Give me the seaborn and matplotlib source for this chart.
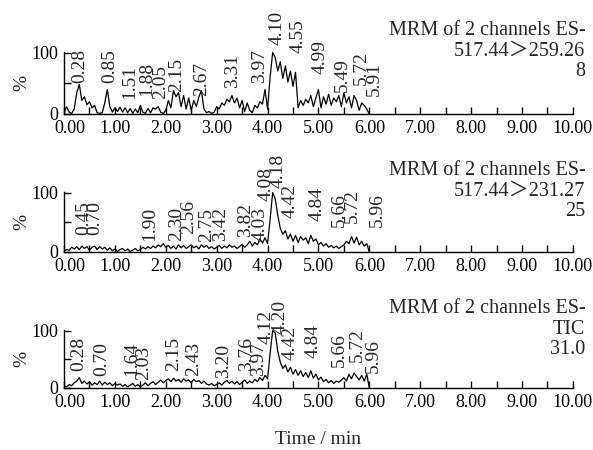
import numpy as np
import pandas as pd
import seaborn as sns
import matplotlib.pyplot as plt
import matplotlib.transforms as mtransforms

# retention time grid (min)
time = np.round(np.arange(121) * 0.05, 2)

# MRM 517.44 > 259.26
ch1 = [2, 12, 3, 1, 8, 35, 48, 22, 28, 15, 20, 10, 14, 2, 1, 2, 18, 40, 12, 3,
       10, 4, 11, 3, 10, 2, 9, 1, 8, 2, 14, 3, 1, 9, 2, 10, 8, 12, 3, 1,
       6, 22, 10, 38, 28, 35, 12, 30, 8, 26, 6, 22, 12, 28, 38, 8, 2, 4, 1, 3,
       12, 8, 18, 14, 24, 20, 30, 18, 26, 10, 22, 4, 18, 6, 2, 14, 10, 20, 16, 40,
       8, 60, 100, 92, 70, 85, 58, 78, 52, 70, 45, 68, 10, 22, 14, 24, 18, 30, 12, 26,
       40, 10, 28, 16, 32, 14, 26, 20, 30, 12, 34, 18, 28, 10, 30, 22, 6, 18, 14, 8, 0]

# MRM 517.44 > 231.27
ch2 = [2, 4, 3, 8, 5, 9, 4, 10, 6, 9, 3, 8, 10, 4, 9, 5, 8, 3, 7, 2,
       5, 1, 4, 6, 2, 5, 1, 3, 6, 2, 4, 8, 5, 9, 6, 10, 7, 12, 9, 14,
       8, 11, 6, 10, 5, 12, 7, 11, 6, 9, 12, 7, 10, 5, 12, 8, 11, 6, 9, 5,
       8, 11, 6, 10, 7, 12, 8, 10, 6, 9, 13, 8, 12, 18, 10, 16, 12, 22, 15, 24,
       14, 55, 100, 90, 62, 40, 30, 36, 22, 30, 18, 28, 16, 26, 20, 24, 14, 28, 18, 22,
       12, 16, 10, 14, 8, 11, 7, 10, 6, 9, 12, 18, 14, 26, 15, 25, 12, 18, 10, 14, 0]

# TIC
tic = [3, 2, 6, 4, 9, 12, 18, 8, 12, 7, 11, 5, 9, 6, 12, 5, 10, 6, 9, 4,
       8, 5, 7, 3, 6, 2, 5, 8, 3, 6, 2, 5, 9, 4, 8, 11, 6, 10, 14, 9,
       13, 16, 11, 17, 12, 15, 10, 16, 12, 14, 9, 15, 11, 13, 8, 12, 7, 5, 8, 4,
       6, 9, 5, 10, 13, 8, 12, 7, 11, 6, 10, 14, 8, 12, 9, 15, 11, 18, 13, 22,
       16, 60, 100, 96, 64, 45, 34, 40, 28, 36, 24, 32, 22, 30, 20, 27, 18, 30, 17, 24,
       14, 19, 11, 15, 9, 13, 8, 12, 10, 14, 18, 12, 24, 16, 26, 20, 14, 22, 12, 24, 0]

# peak labels: text, x position, height of label foot (%)
lab1 = ["0.28", "0.85", "1.51", "1.88", "2.05", "2.15", "2.67", "3.31", "3.97",
        "4.10", "4.55", "4.99", "5.49", "5.72", "5.91"]
lab1_x = [0.31, 0.90, 1.30, 1.63, 1.89, 2.21, 2.71, 3.32, 3.85, 4.18, 4.60, 5.03, 5.48, 5.85, 6.10]
lab1_y = [51, 51, 24, 30, 24, 35, 30, 43, 51, 113, 100, 65, 35, 48, 29]

lab2 = ["0.45", "0.70", "1.90", "2.30", "2.56", "2.75", "3.42", "3.82", "4.03",
        "4.08", "4.18", "4.42", "4.84", "5.66", "5.72", "5.96"]
lab2_x = [0.38, 0.61, 1.69, 2.21, 2.44, 2.81, 3.07, 3.56, 3.85, 3.98, 4.21, 4.44, 4.97, 5.42, 5.66, 6.15]
lab2_y = [28, 28, 19, 19, 30, 17, 19, 25, 19, 86, 108, 57, 53, 42, 48, 42]

lab3 = ["0.28", "0.70", "1.64", "2.03", "2.15", "2.43", "3.20", "3.76", "3.97",
        "4.12", "4.20", "4.42", "4.84", "5.66", "5.72", "5.96"]
lab3_x = [0.28, 0.74, 1.33, 1.56, 2.15, 2.54, 3.13, 3.59, 3.82, 3.98, 4.24, 4.44, 4.90, 5.42, 5.76, 6.07]
lab3_y = [29, 20, 20, 14, 29, 20, 17, 29, 20, 77, 94, 48, 52, 36, 45, 26]

headers = ["MRM of 2 channels ES-\n517.44\uff1e259.26\n8",
           "MRM of 2 channels ES-\n517.44\uff1e231.27\n25",
           "MRM of 2 channels ES-\nTIC\n31.0"]

sns.set_style("ticks")
plt.rcParams["font.family"] = ["Liberation Serif", "Noto Sans CJK SC"]

fig = plt.figure(figsize=(5.93, 4.5), dpi=100)
boxes = [[0.108, 0.7467, 0.858, 0.1378],
         [0.108, 0.4400, 0.858, 0.1333],
         [0.108, 0.1378, 0.858, 0.1290]]

series = [ch1, ch2, tic]
labels = [(lab1, lab1_x, lab1_y), (lab2, lab2_x, lab2_y), (lab3, lab3_x, lab3_y)]

for box, y, (txt, lx, ly), head in zip(boxes, series, labels, headers):
    ax = fig.add_axes(box)
    df = pd.DataFrame({"time": time, "pct": y})
    sns.lineplot(data=df, x="time", y="pct", ax=ax, color="black", linewidth=0.9)
    ax.set_xlim(0, 10)
    ax.set_ylim(0, 101)
    sns.despine(ax=ax)
    for s in ["left", "bottom"]:
        ax.spines[s].set_linewidth(1.0)
        ax.spines[s].set_color("black")
    ax.set_xticks(np.arange(0, 11, 1))
    ax.set_xticklabels([f"{v:.2f}" for v in range(11)])
    ax.set_xticks(np.arange(0, 10.5, 0.5), minor=True)
    ax.set_yticks([0, 50, 100])
    ax.set_yticklabels(["0", "", "100"])
    ax.tick_params(axis="both", which="both", direction="in", length=5, width=1,
                   labelsize=13, colors="black")
    ax.tick_params(axis="x", pad=4)
    ax.tick_params(axis="y", pad=4)
    # nudge the first time label right, as in the original
    first = ax.get_xticklabels()[0]
    first.set_transform(first.get_transform() +
                        mtransforms.ScaledTranslation(6 / 100, 0, fig.dpi_scale_trans))
    ax.set_xlabel("")
    ax.set_ylabel("%", fontsize=14)
    ax.yaxis.set_label_coords(-0.066, 0.5)
    for t, x0, y0 in zip(txt, lx, ly):
        ax.text(x0, y0, t, rotation=90, rotation_mode="anchor", ha="left",
                va="center", fontsize=14, clip_on=False)
    ax.annotate(head, xy=(1, 1), xycoords="axes fraction", xytext=(9, 22),
                textcoords="offset points", ha="right", va="top",
                multialignment="right", fontsize=14.5, linespacing=1.08)

fig.text(318 / 593, 1 - 440 / 450, "Time / min", ha="center", va="center", fontsize=14)

plt.savefig("out.png", dpi=100)
